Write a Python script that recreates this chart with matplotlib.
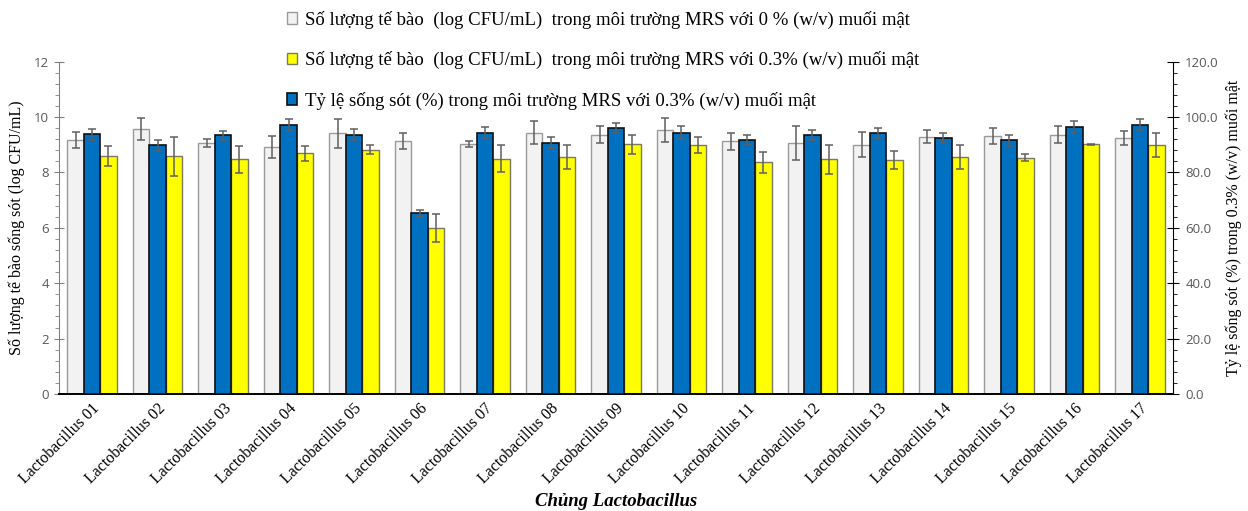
import matplotlib
matplotlib.use("Agg")
import matplotlib.pyplot as plt
import numpy as np
from matplotlib.ticker import MultipleLocator, FormatStrFormatter

# Strains
strains = [f"Lactobacillus {i:02d}" for i in range(1, 18)]

# Cell counts (log CFU/mL) in MRS with 0 % bile salt
log_0 = [9.17, 9.57, 9.07, 8.91, 9.41, 9.13, 9.02, 9.43, 9.37, 9.53,
         9.12, 9.06, 9.00, 9.29, 9.32, 9.36, 9.25]
err_0 = [0.30, 0.38, 0.15, 0.40, 0.52, 0.28, 0.10, 0.42, 0.30, 0.42,
         0.32, 0.62, 0.45, 0.24, 0.29, 0.31, 0.25]

# Cell counts (log CFU/mL) in MRS with 0.3 % bile salt
log_03 = [8.59, 8.58, 8.47, 8.69, 8.82, 5.99, 8.50, 8.57, 9.02, 8.99,
          8.37, 8.47, 8.45, 8.56, 8.54, 9.02, 9.00]
err_03 = [0.36, 0.70, 0.48, 0.27, 0.17, 0.50, 0.50, 0.43, 0.35, 0.29,
          0.38, 0.52, 0.32, 0.42, 0.13, 0.02, 0.44]

# Survival rate (%) in MRS with 0.3 % bile salt
survival = [93.8, 89.8, 93.4, 97.2, 93.7, 65.3, 94.4, 90.8, 96.2, 94.4,
            91.8, 93.6, 94.3, 92.4, 91.6, 96.3, 97.2]
err_surv = [2.0, 2.0, 1.7, 2.2, 2.0, 1.3, 2.0, 2.0, 1.8, 2.2,
            1.9, 1.7, 1.9, 1.9, 2.1, 2.2, 2.0]

label_0 = "Số lượng tế bào  (log CFU/mL)  trong môi trường MRS với 0 % (w/v) muối mật"
label_03 = "Số lượng tế bào  (log CFU/mL)  trong môi trường MRS với 0.3% (w/v) muối mật"
label_surv = "Tỷ lệ sống sót (%) trong môi trường MRS với 0.3% (w/v) muối mật"

serif = "Liberation Serif"
sans = "Open Sans"
tick_grey = "#595959"

fig = plt.figure(figsize=(12.48, 5.11), dpi=100)
ax = fig.add_axes([59.3 / 1248, 1 - 394 / 511, (1172.7 - 59.3) / 1248, (394 - 61.7) / 511])
ax2 = ax.twinx()

x = np.arange(len(strains))
w = 0.25
ekw = dict(ecolor="#5f5f5f", elinewidth=1.1, capsize=3.2, capthick=1.1)

b0 = ax.bar(x - w, log_0, w, yerr=err_0, color="#F2F2F2", edgecolor="#9a9a9a",
            linewidth=1.0, error_kw=ekw, zorder=2)
b3 = ax.bar(x + w, log_03, w, yerr=err_03, color="#FFFF00", edgecolor="#7a7a60",
            linewidth=1.0, error_kw=ekw, zorder=2)
bs = ax2.bar(x, survival, w, yerr=err_surv, color="#0070C0", edgecolor="#111111",
             linewidth=1.2, error_kw=ekw, zorder=2)

ax.set_xlim(-0.5, len(strains) - 0.5)
ax.set_ylim(0, 12)
ax2.set_ylim(0, 120)

ax.yaxis.set_major_locator(MultipleLocator(2))
ax.yaxis.set_minor_locator(MultipleLocator(0.4))
ax2.yaxis.set_major_locator(MultipleLocator(20))
ax2.yaxis.set_minor_locator(MultipleLocator(4))
ax2.yaxis.set_major_formatter(FormatStrFormatter("%.1f"))

ax.spines["top"].set_visible(False)
ax2.spines["top"].set_visible(False)
ax2.spines["left"].set_visible(False)
ax2.spines["bottom"].set_visible(False)
ax.spines["right"].set_visible(False)
ax.spines["left"].set_color("#808080")
ax2.spines["right"].set_color("#000000")
ax.spines["bottom"].set_color("#000000")
ax.spines["bottom"].set_linewidth(1.4)

ax.tick_params(axis="y", which="major", direction="inout", length=7, color="#808080",
               labelsize=9.5, labelcolor=tick_grey, pad=4)
ax.tick_params(axis="y", which="minor", direction="out", length=3, color="#808080")
ax2.tick_params(axis="y", which="major", direction="inout", length=8, color="#000000",
                labelsize=9.5, labelcolor=tick_grey, pad=5)
ax2.tick_params(axis="y", which="minor", direction="out", length=3, color="#000000")
for lab in ax.get_yticklabels() + ax2.get_yticklabels():
    lab.set_fontfamily(sans)

ax.set_xticks(x)
ax.set_xticklabels(strains, rotation=45, ha="right", rotation_mode="anchor",
                   fontfamily=serif, fontsize=11.5)
ax.tick_params(axis="x", length=0, pad=5)

ax.set_ylabel("Số lượng tế bào sống sót (log CFU/mL)", fontfamily=serif, fontsize=11.5,
              labelpad=6)
ax2.set_ylabel("Tỷ lệ sống sót (%) trong 0.3% (w/v) muối mật", fontfamily=serif,
               fontsize=11.5, labelpad=5)
ax.set_xlabel("Chủng Lactobacillus", fontfamily=serif, fontsize=13.5,
              fontweight="bold", fontstyle="italic", labelpad=4)

leg = fig.legend([b0, b3, bs], [label_0, label_03, label_surv],
                 loc="upper left", bbox_to_anchor=(279 / 1248, 1 - 3 / 511),
                 frameon=False, prop={"family": serif, "size": 13.5},
                 handlelength=0.55, handleheight=0.55, handletextpad=0.45,
                 labelspacing=1.2, borderaxespad=0)

fig.savefig("out.png", dpi=100)
